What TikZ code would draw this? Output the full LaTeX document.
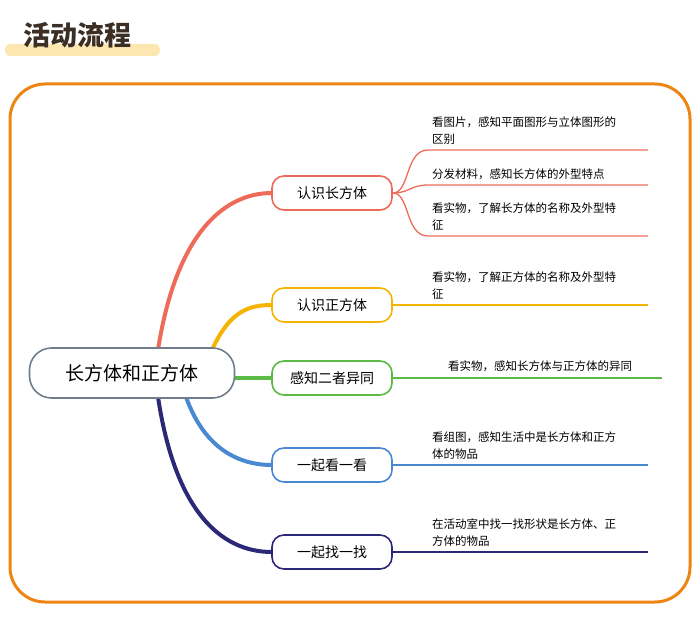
\documentclass[tikz,border=0pt]{standalone}
\usepackage{fontspec}
\setmainfont{Noto Sans CJK SC}
\usetikzlibrary{positioning}
\definecolor{frameorange}{HTML}{EE8512}
\definecolor{hilite}{HTML}{FCE7B0}
\definecolor{cred}{HTML}{EE6B5A}
\definecolor{cyellow}{HTML}{F4B400}
\definecolor{cgreen}{HTML}{5CBB45}
\definecolor{cblue}{HTML}{4A88D2}
\definecolor{cnavy}{HTML}{2C2878}
\definecolor{cgray}{HTML}{6F7D8C}
\definecolor{ctitle}{HTML}{3A2E25}
\tikzset{
  root/.style={draw=cgray, line width=1.6pt, rounded corners=22pt, minimum width=205pt, minimum height=50pt, font=\fontsize{19pt}{22pt}\selectfont, fill=white},
  topic/.style={draw=#1, line width=1.6pt, rounded corners=12pt, minimum width=120pt, minimum height=34pt, font=\fontsize{14pt}{16pt}\selectfont, fill=white},
  stem/.style={draw=#1, line width=4pt, line cap=round},
  twig/.style={draw=#1, line width=1.3pt},
  leaf/.style={anchor=south west, align=left, inner sep=2pt, font=\fontsize{11.5pt}{17pt}\selectfont, text width=215pt}
}
\begin{document}
\begin{tikzpicture}[x=1pt,y=-1pt]
\useasboundingbox (0,0) rectangle (700,631);
% title
\fill[hilite, rounded corners=5pt] (5,44) rectangle (160,56);
\node[anchor=west, text=ctitle, font=\fontsize{27pt}{30pt}\selectfont\bfseries] (title) at (20,35) {活动流程};
\draw[frameorange, line width=3pt, rounded corners=35pt] (10,84) rectangle (690,602);

% stems first, nodes drawn over them
\coordinate (r1) at (158,350);
\coordinate (r2) at (212,350);
\coordinate (r3) at (234,378);
\coordinate (r4) at (186,397);
\coordinate (r5) at (158,397);
\draw[stem=cred]    (r1) .. controls (175,240) and (220,193) .. (272,193);
\draw[stem=cyellow] (r2) .. controls (230,310) and (250,305) .. (272,305);
\draw[stem=cgreen]  (r3) -- (272,378);
\draw[stem=cblue]   (r4) .. controls (205,450) and (240,465) .. (272,465);
\draw[stem=cnavy]   (r5) .. controls (175,510) and (220,552) .. (272,552);

\node[root] (root) at (132,373) {长方体和正方体};
\node[topic=cred]    (t1) at (332,193) {认识长方体};
\node[topic=cyellow] (t2) at (332,305) {认识正方体};
\node[topic=cgreen]  (t3) at (332,378) {感知二者异同};
\node[topic=cblue]   (t4) at (332,465) {一起看一看};
\node[topic=cnavy]   (t5) at (332,552) {一起找一找};

% leaves of the first topic
\coordinate (a1) at (428,150);
\coordinate (a2) at (428,185);
\coordinate (a3) at (428,236);
\draw[twig=cred] (t1.east) .. controls (410,193) and (405,150) .. (a1) -- (648,150);
\draw[twig=cred] (t1.east) .. controls (410,193) and (410,185) .. (a2) -- (648,185);
\draw[twig=cred] (t1.east) .. controls (410,193) and (405,236) .. (a3) -- (648,236);
\node[leaf] (l1) at (430,147) {看图片，感知平面图形与立体图形的\\区别};
\node[leaf] (l2) at (430,182) {分发材料，感知长方体的外型特点};
\node[leaf] (l3) at (430,233) {看实物，了解长方体的名称及外型特\\征};

% other leaves
\coordinate (b1) at (648,305);
\coordinate (c1) at (662,378);
\coordinate (d1) at (648,465);
\coordinate (e1) at (648,552);
\draw[twig=cyellow] (t2.east) -- (b1);
\draw[twig=cgreen]  (t3.east) -- (c1);
\draw[twig=cblue]   (t4.east) -- (d1);
\draw[twig=cnavy]   (t5.east) -- (e1);
\node[leaf] (l4) at (430,302) {看实物，了解正方体的名称及外型特\\征};
\node[leaf] (l5) at (446,374) {看实物，感知长方体与正方体的异同};
\node[leaf] (l6) at (430,462) {看组图，感知生活中是长方体和正方\\体的物品};
\node[leaf] (l7) at (430,549) {在活动室中找一找形状是长方体、正\\方体的物品};
\end{tikzpicture}
\end{document}
